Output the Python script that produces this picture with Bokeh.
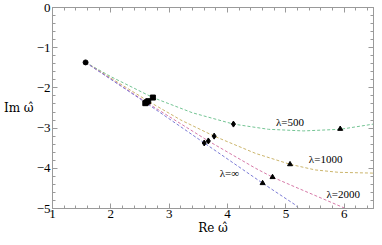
from bokeh.plotting import figure
from bokeh.models import Range1d, LinearAxis, Label, SingleIntervalTicker, CustomJSTickFormatter
from bokeh.embed import file_html
from bokeh.resources import INLINE

# ---- data ----
lambdas = ["500", "1000", "2000", "∞"]
colors = ["#74c494", "#cbb56c", "#d67aa8", "#7c7cd6"]

x_l500 = [1.567, 2.0, 2.72, 3.4, 4.1, 4.7, 5.3, 5.93, 6.5]
y_l500 = [-1.366, -1.72, -2.24, -2.62, -2.9, -3.03, -3.07, -3.03, -2.9]
x_l1000 = [1.567, 2.64, 3.2, 3.77, 4.48, 5.07, 5.5, 5.9, 6.5]
y_l1000 = [-1.366, -2.33, -2.8, -3.2, -3.63, -3.9, -4.04, -4.1, -4.12]
x_l2000 = [1.567, 2.61, 3.67, 4.48, 4.77, 5.15, 5.7, 6.02]
y_l2000 = [-1.366, -2.36, -3.32, -4.0, -4.22, -4.46, -4.8, -5.0]
x_linf = [1.567, 2.6, 3.6, 4.6, 5.15, 5.22]
y_linf = [-1.366, -2.37, -3.37, -4.37, -4.9, -5.0]

# marker points (circle = start, square, diamond, triangle), per curve 500,1000,2000,inf
circ_x = [1.567]
circ_y = [-1.366]
sq_x = [2.72, 2.64, 2.61, 2.59]
sq_y = [-2.24, -2.33, -2.36, -2.38]
dia_x = [4.1, 3.77, 3.67, 3.6]
dia_y = [-2.9, -3.2, -3.32, -3.37]
tri_x = [5.93, 5.07, 4.77, 4.6]
tri_y = [-3.02, -3.9, -4.22, -4.37]

x_ticks_interval = 1
y_ticks_interval = 1

FONT = "Liberation Serif"
LABEL_FONT = "DejaVu Serif"
GRAY = "#9a9a9a"

p = figure(width=374, height=237, output_backend="svg", toolbar_location=None,
           x_range=Range1d(1, 6.5), y_range=Range1d(-5, 0),
           min_border_left=51, min_border_right=1, min_border_top=7, min_border_bottom=29)
p.xgrid.visible = False
p.ygrid.visible = False
p.outline_line_color = GRAY
p.background_fill_color = "white"
p.border_fill_color = "white"

fmt = CustomJSTickFormatter(code="var v = Math.round(tick*100)/100; return v < 0 ? '\u2212' + Math.abs(v) : '' + v;")

for ax in [p.xaxis[0], p.yaxis[0]]:
    ax.axis_line_color = GRAY
    ax.major_tick_line_color = GRAY
    ax.minor_tick_line_color = GRAY
    ax.major_tick_in = 5
    ax.major_tick_out = 0
    ax.minor_tick_in = 3
    ax.minor_tick_out = 0
    ax.major_label_text_font = FONT
    ax.major_label_text_font_size = "13px"
    ax.major_label_text_color = "black"
    ax.formatter = fmt
    ax.axis_label_text_font = LABEL_FONT
    ax.axis_label_text_font_size = "12px"
    ax.axis_label_text_font_style = "normal"
    ax.axis_label_text_color = "black"
p.xaxis[0].ticker = SingleIntervalTicker(interval=x_ticks_interval, num_minor_ticks=5)
p.yaxis[0].ticker = SingleIntervalTicker(interval=y_ticks_interval, num_minor_ticks=5)
p.xaxis[0].major_label_standoff = 1
p.yaxis[0].major_label_standoff = 2
p.xaxis[0].axis_label = "Re ω̂"
p.xaxis[0].axis_label_standoff = 0
p.yaxis[0].axis_label = "Im ω̂"
p.yaxis[0].axis_label_standoff = 0
if "axis_label_orientation" in p.yaxis[0].properties():
    p.yaxis[0].axis_label_orientation = "horizontal"

for loc, interval in [("above", x_ticks_interval), ("right", y_ticks_interval)]:
    ax = LinearAxis(ticker=SingleIntervalTicker(interval=interval, num_minor_ticks=5))
    ax.axis_line_color = GRAY
    ax.major_tick_line_color = GRAY
    ax.minor_tick_line_color = GRAY
    ax.major_tick_in = 5
    ax.major_tick_out = 0
    ax.minor_tick_in = 3
    ax.minor_tick_out = 0
    ax.major_label_text_font_size = "0px"
    ax.major_label_text_alpha = 0
    ax.major_label_standoff = 0
    p.add_layout(ax, loc)

curves = [(x_l500, y_l500), (x_l1000, y_l1000), (x_l2000, y_l2000), (x_linf, y_linf)]
for (xs, ys), c in zip(curves, colors):
    p.line(xs, ys, line_color=c, line_width=1, line_dash="3 2")

p.scatter(circ_x, circ_y, marker="circle", size=5, color="black")
p.scatter(sq_x, sq_y, marker="square", size=5, color="black")
p.scatter(dia_x, dia_y, marker="diamond", size=6, color="black")
p.scatter(tri_x, tri_y, marker="triangle", size=5, color="black")

label_pos = [(5.07, -2.85), (5.68, -3.78), (5.98, -4.63), (4.03, -4.12)]
for lam, (lx, ly) in zip(lambdas, label_pos):
    p.add_layout(Label(x=lx, y=ly, text="λ=" + lam, text_font=FONT, text_font_size="11px",
                       text_align="center", text_baseline="middle", text_color="black"))

open("out.html", "w").write(file_html(p, INLINE))
